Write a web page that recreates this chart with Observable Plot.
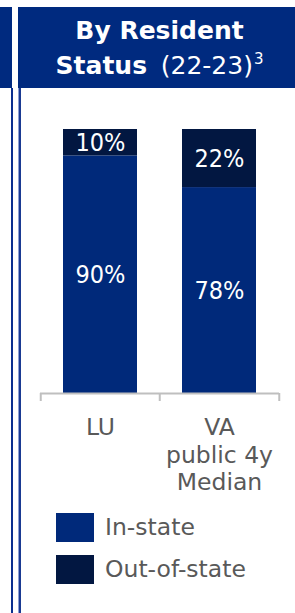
<!DOCTYPE html>
<html><head><meta charset="utf-8">
<script src="https://cdn.jsdelivr.net/npm/d3@7"></script>
<script src="https://cdn.jsdelivr.net/npm/@observablehq/plot@0.6"></script>
<style>
html,body{margin:0;padding:0;background:#fff;}
body{width:295px;height:613px;overflow:hidden;position:relative;font-family:"DejaVu Sans",sans-serif;}
#leftblock{position:absolute;left:0;top:7px;width:12px;height:81px;background:#002a7f}
#line1{position:absolute;left:11px;top:88px;width:2px;bottom:0;background:#0b2f8e}
#line2{position:absolute;left:18px;top:88px;width:1.5px;bottom:0;background:#1a3a92;border-left:1px solid #8da0d4}
#header{position:absolute;left:18px;top:7px;right:0;height:81px;background:#002a7f;color:#fff;font-weight:bold;font-size:25px;text-align:center;box-sizing:border-box;padding-left:6px;padding-top:6px;line-height:35px;}
#t2{word-spacing:5px}
#t2 .rest{font-weight:normal}
#header sup{font-size:15px;font-weight:normal;vertical-align:10px;line-height:0;margin-left:1px}
#chart{position:absolute;left:0;top:95px;}
.leg{position:absolute;left:56px;width:38px;height:29px}
.legt{position:absolute;left:105px;font-size:23.5px;color:#595959;line-height:29px;}
</style>
</head><body>
<div id="leftblock"></div>
<div id="line1"></div>
<div id="line2"></div>
<div id="header"><div id="t1"></div><div id="t2"></div></div>
<div id="chart"></div>
<div id="legend"></div>
<script>
const titleLine1 = "By Resident";
const titleLine2Bold = "Status";
const titleLine2Rest = "(22-23)";
const titleNote = "3";
const categories = ["LU", "VA"];
const categoryLabels = ["LU", "VA\npublic 4y\nMedian"];
const seriesNames = ["In-state", "Out-of-state"];
const inState = [90, 78];
const outOfState = [10, 22];
const colors = ["#00297a", "#021741"];

document.getElementById("t1").textContent = titleLine1;
const t2 = document.getElementById("t2");
t2.appendChild(document.createTextNode(titleLine2Bold + " "));
const rest = document.createElement("span"); rest.className = "rest"; rest.textContent = titleLine2Rest; t2.appendChild(rest);
const sup = document.createElement("sup"); sup.textContent = titleNote; t2.appendChild(sup);

const rows = categories.flatMap((c, i) => [
  {category: c, series: seriesNames[0], value: inState[i]},
  {category: c, series: seriesNames[1], value: outOfState[i]}
]);

const W = 295, H = 405, ML = 40, MR = 16;
const step = (W - ML - MR) / categories.length;
const labelFont = '"Liberation Sans Narrow", "DejaVu Sans Condensed", sans-serif';

const plot = Plot.plot({
  width: W, height: H,
  marginLeft: ML, marginRight: MR, marginTop: 34, marginBottom: 107,
  style: {fontFamily: '"DejaVu Sans", sans-serif', background: "transparent"},
  x: {type: "band", domain: categories, paddingInner: 0.38, paddingOuter: 0.19, axis: null},
  y: {domain: [0, 100], axis: null},
  color: {domain: seriesNames, range: colors},
  marks: [
    Plot.barY(rows, Plot.stackY({x: "category", y: "value", z: "series", fill: "series"})),
    Plot.text(rows, Plot.stackY({x: "category", y: "value", z: "series", text: d => d.value + "%", fill: "white", fontSize: 25, fontFamily: labelFont})),
    Plot.ruleY([0], {stroke: "#bfbfbf", strokeWidth: 2}),
    Plot.ruleX(categories, {x: d => d, y1: 0, y2: 0, dx: -step / 2, insetBottom: -8, stroke: "#bfbfbf", strokeWidth: 2}),
    Plot.ruleX(categories.slice(-1), {x: d => d, y1: 0, y2: 0, dx: step / 2, insetBottom: -8, stroke: "#bfbfbf", strokeWidth: 2}),
    Plot.text(categories, {x: d => d, text: (d, i) => categoryLabels[i], frameAnchor: "bottom", lineAnchor: "top", dy: 22, lineHeight: 1.17, fontSize: 23.5, fill: "#595959"})
  ]
});
document.getElementById("chart").appendChild(plot);

const legend = document.getElementById("legend");
const legTops = [513, 555];
seriesNames.forEach((s, i) => {
  const sw = document.createElement("div");
  sw.className = "leg"; sw.style.top = legTops[i] + "px"; sw.style.background = colors[i];
  const tx = document.createElement("div");
  tx.className = "legt"; tx.style.top = legTops[i] + "px"; tx.textContent = s;
  legend.appendChild(sw); legend.appendChild(tx);
});
</script>
</body></html>
